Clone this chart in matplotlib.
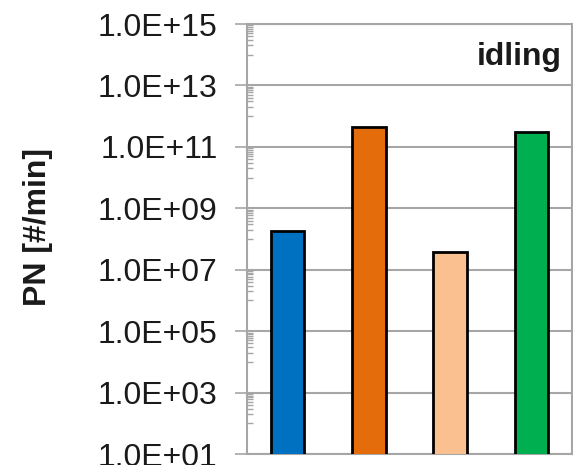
import matplotlib
matplotlib.use("Agg")
import matplotlib.pyplot as plt
from matplotlib.ticker import FixedLocator, FuncFormatter, NullFormatter

plt.rcParams['font.family'] = ['Liberation Sans', 'DejaVu Sans']

categories = ['1', '2', '3', '4']
values = [1.8e8, 4.6e11, 3.8e7, 3.1e11]
colors = ['#0070C0', '#E46C0A', '#FAC090', '#00B050']
major_ticks = [1e1, 1e3, 1e5, 1e7, 1e9, 1e11, 1e13, 1e15]
panel_label = 'idling'
y_label = 'PN [#/min]'

fig = plt.figure(figsize=(5.73, 4.65), dpi=100)
ax = fig.add_axes([247/573, 1-454/465, (572-247)/573, (454-24)/465])

x = list(range(len(categories)))
ax.bar(x, values, width=0.41, color=colors, edgecolor='black', linewidth=2.0, zorder=3, bottom=0)
ax.set_yscale('log')
ax.set_ylim(1e1, 1e15)
ax.set_xlim(-0.5, 3.5)

ax.yaxis.set_major_locator(FixedLocator(major_ticks))
ax.yaxis.set_major_formatter(FuncFormatter(lambda v, p: f"{v:.1E}"))
minor = [k * 10.0**e for e in range(2, 15, 2) for k in range(1, 10)]
ax.yaxis.set_minor_locator(FixedLocator([m for m in minor if m < 1e15]))
ax.yaxis.set_minor_formatter(NullFormatter())

grid_c = '#A6A6A6'
ax.grid(axis='y', which='major', color=grid_c, linewidth=1.5, zorder=0)
ax.tick_params(axis='y', which='major', direction='out', length=9, width=1.2, color=grid_c,
               labelsize=23, pad=12, labelcolor='#1a1a1a')
ax.tick_params(axis='y', which='minor', direction='in', length=4.5, width=1.0, color=grid_c)
ax.tick_params(axis='x', which='both', bottom=False, labelbottom=False)

for s in ['left', 'bottom', 'right', 'top']:
    ax.spines[s].set_color(grid_c)
    ax.spines[s].set_linewidth(1.5)

fig.text(38/573, 1-227/465, y_label, rotation=90, ha='center', va='center',
         fontsize=23, fontweight='bold', color='#1a1a1a')
fig.text(562/573, 1-65/465, panel_label, ha='right', va='baseline',
         fontsize=23, fontweight='bold', color='#1a1a1a')

fig.savefig('out.png', dpi=100)
